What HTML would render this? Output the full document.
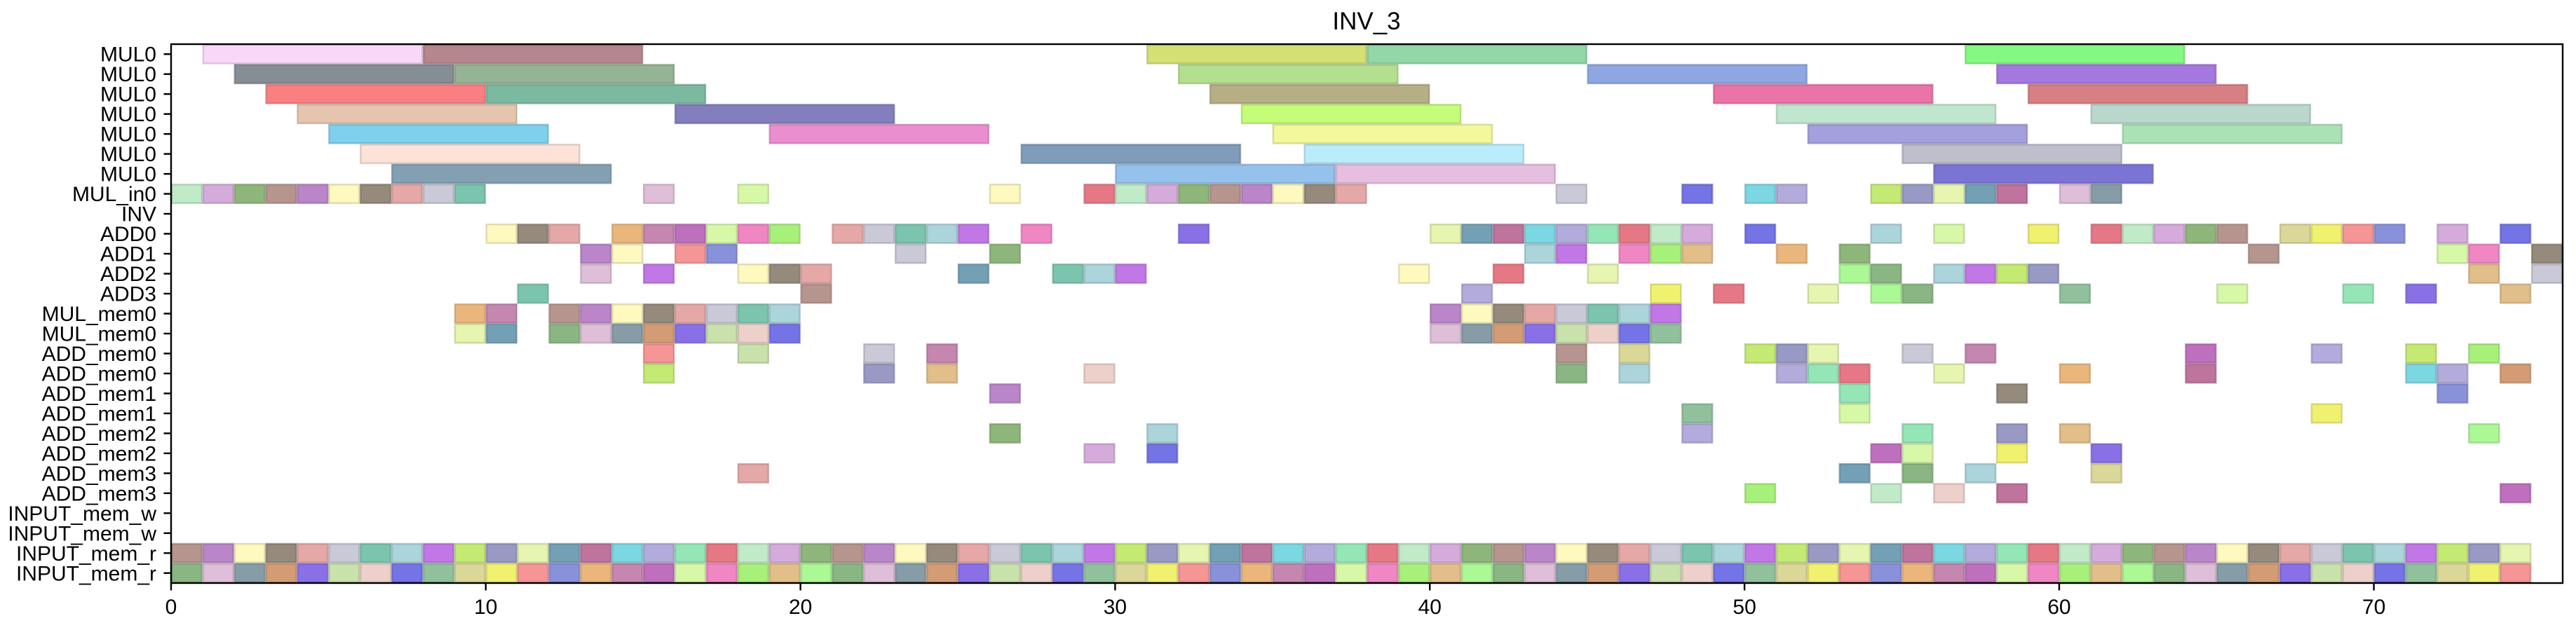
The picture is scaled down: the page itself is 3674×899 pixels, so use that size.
<!DOCTYPE html>
<html><head><meta charset="utf-8"><title>INV_3</title>
<style>
html,body{margin:0;padding:0;background:#fff;}
svg{display:block;font-family:"Liberation Sans","DejaVu Sans",sans-serif;}
</style></head>
<body>
<svg id="chart" width="3674" height="899" viewBox="0 0 3674 899" xmlns="http://www.w3.org/2000/svg">
<rect x="0" y="0" width="3674" height="899" fill="#fff"/>
<text x="1949" y="42" font-size="35" text-anchor="middle" fill="#000">INV_3</text>
<g id="bars"></g>
<g id="axes"></g>
</svg>
<script>
const rowLabels = ["MUL0","MUL0","MUL0","MUL0","MUL0","MUL0","MUL0","MUL_in0","INV","ADD0","ADD1","ADD2","ADD3","MUL_mem0","MUL_mem0","ADD_mem0","ADD_mem0","ADD_mem1","ADD_mem1","ADD_mem2","ADD_mem2","ADD_mem3","ADD_mem3","INPUT_mem_w","INPUT_mem_w","INPUT_mem_r","INPUT_mem_r"];
const xTicks = [0,10,20,30,40,50,60,70];
const mulDuration = 7;
const mulStarts = [
  [1,8,31,38,57],
  [2,9,32,45,58],
  [3,10,33,49,59],
  [4,16,34,51,61],
  [5,19,35,52,62],
  [6,27,36,55],
  [7,30,37,56]
];
const mulColors = [
  ["#f8d4f8","#b07c84","#d0dc68","#88d4a0","#78f878"],
  ["#7c848c","#8cac8c","#acdc84","#84a0e0","#9c6cdc"],
  ["#f87478","#70b498","#b0a87c","#e868a0","#d47478"],
  ["#e4c0a8","#7874b8","#c0fc6c","#bce4cc","#b4d4c8"],
  ["#74ccec","#e884cc","#f0f894","#9c98dc","#a4e0ac"],
  ["#fce0d4","#7494b4","#b4ecfc","#b8b8c8"],
  ["#7898ac","#8cbcec","#e4b8dc","#7068d0"]
];
const cellStarts = {
  7: [0,1,2,3,4,5,6,7,8,9,15,18,26,29,30,31,32,33,34,35,36,37,44,48,50,51,54,55,56,57,58,60,61],
  8: [],
  9: [10,11,12,14,15,16,17,18,19,21,22,23,24,25,27,32,40,41,42,43,44,45,46,47,48,50,54,56,59,61,62,63,64,65,67,68,69,70,72,74],
  10: [13,14,16,17,23,26,43,44,46,47,48,51,53,66,72,73,75],
  11: [13,15,18,19,20,25,28,29,30,39,42,45,53,54,56,57,58,59,73,75],
  12: [11,20,41,47,49,52,54,55,60,65,69,71,74],
  13: [9,10,12,13,14,15,16,17,18,19,40,41,42,43,44,45,46,47],
  14: [9,10,12,13,14,15,16,17,18,19,40,41,42,43,44,45,46,47],
  15: [15,18,22,24,44,46,50,51,52,55,57,64,68,71,73],
  16: [15,22,24,29,44,46,51,52,53,56,60,64,71,72,74],
  17: [26,53,58,72],
  18: [48,53,68],
  19: [26,31,48,55,58,60,73],
  20: [29,31,54,55,58,61],
  21: [18,53,55,57,61],
  22: [50,54,56,58,74],
  23: [],
  24: [],
  25: [0,1,2,3,4,5,6,7,8,9,10,11,12,13,14,15,16,17,18,19,20,21,22,23,24,25,26,27,28,29,30,31,32,33,34,35,36,37,38,39,40,41,42,43,44,45,46,47,48,49,50,51,52,53,54,55,56,57,58,59,60,61,62,63,64,65,66,67,68,69,70,71,72,73,74],
  26: [0,1,2,3,4,5,6,7,8,9,10,11,12,13,14,15,16,17,18,19,20,21,22,23,24,25,26,27,28,29,30,31,32,33,34,35,36,37,38,39,40,41,42,43,44,45,46,47,48,49,50,51,52,53,54,55,56,57,58,59,60,61,62,63,64,65,66,67,68,69,70,71,72,73,74]
};
const xMax = 76;

const NS = "http://www.w3.org/2000/svg";
const L = 244, T = 63, W = 3411, H = 769;
const rowH = H / rowLabels.length;
const xs = v => L + v / xMax * W;
const ys = r => T + r * rowH;
const palette = ["#c4e0a4","#fef8b8","#dcb8d4","#d0a4d8","#a0f070","#aca4d8","#c07ca8","#e4f4a8","#f0f064","#a4d0d8","#ecccc4","#8c8070","#7c94a0","#84b070","#e0b880","#8ce4b0","#b864b8","#6898b0","#f48c8c","#bc6ce4","#6868e4","#e4a0a0","#d09468","#b08c84","#a4f88c","#e46c7c","#d4f8a0","#b86894","#8088d8","#c0e868","#88bc94","#c4c4d4","#8064e4","#b47cc4","#80b078","#bce8c4","#f07cc0","#70d4e0","#e8b070","#9090c0","#d8d490","#70c0a8"];
function darken(hex){
  const n=parseInt(hex.slice(1),16);
  const r=Math.round(((n>>16)&255)*0.8), g=Math.round(((n>>8)&255)*0.8), b=Math.round((n&255)*0.8);
  return "rgb("+r+","+g+","+b+")";
}
const barsG = document.getElementById("bars");
function addBar(row, start, dur, color){
  const rc = document.createElementNS(NS, "rect");
  rc.setAttribute("x", xs(start) + 1);
  rc.setAttribute("y", ys(row) + 1);
  rc.setAttribute("width", xs(start + dur) - xs(start) - 2);
  rc.setAttribute("height", rowH - 2);
  rc.setAttribute("fill", color);
  rc.setAttribute("fill-opacity", "0.92");
  rc.setAttribute("stroke", darken(color));
  rc.setAttribute("stroke-opacity", "0.6");
  rc.setAttribute("stroke-width", "2.5");
  
  
  barsG.appendChild(rc);
}
mulStarts.forEach((starts, r) => {
  starts.forEach((s, i) => addBar(r, s, mulDuration, mulColors[r][i]));
});
Object.keys(cellStarts).forEach(k => {
  const r = +k;
  cellStarts[k].forEach((s, i) => addBar(r, s, 1, palette[(s * 7 + r * 11 + i * 3) % palette.length]));
});

const axesG = document.getElementById("axes");
const frame = document.createElementNS(NS, "rect");
frame.setAttribute("x", L); frame.setAttribute("y", T);
frame.setAttribute("width", W); frame.setAttribute("height", H);
frame.setAttribute("fill", "none"); frame.setAttribute("stroke", "#000"); frame.setAttribute("stroke-width", "2.4");


axesG.appendChild(frame);

rowLabels.forEach((lab, r) => {
  const yc = ys(r) + rowH / 2;
  const tk = document.createElementNS(NS, "line");
  tk.setAttribute("x1", L - 10.5); tk.setAttribute("x2", L);
  tk.setAttribute("y1", yc); tk.setAttribute("y2", yc);
  tk.setAttribute("stroke", "#000"); tk.setAttribute("stroke-width", "2.4");
  
  
  axesG.appendChild(tk);
  const tx = document.createElementNS(NS, "text");
  tx.setAttribute("x", L - 21); tx.setAttribute("y", yc + 10.5);
  tx.setAttribute("font-size", "30"); tx.setAttribute("text-anchor", "end");
  tx.textContent = lab;
  
  
  axesG.appendChild(tx);
});
xTicks.forEach(v => {
  const x = xs(v);
  const tk = document.createElementNS(NS, "line");
  tk.setAttribute("x1", x); tk.setAttribute("x2", x);
  tk.setAttribute("y1", T + H); tk.setAttribute("y2", T + H + 10.5);
  tk.setAttribute("stroke", "#000"); tk.setAttribute("stroke-width", "2.4");
  
  
  axesG.appendChild(tk);
  const tx = document.createElementNS(NS, "text");
  tx.setAttribute("x", x); tx.setAttribute("y", T + H + 44);
  tx.setAttribute("font-size", "30"); tx.setAttribute("text-anchor", "middle");
  tx.textContent = v;
  
  
  axesG.appendChild(tx);
});
</script>
</body></html>
